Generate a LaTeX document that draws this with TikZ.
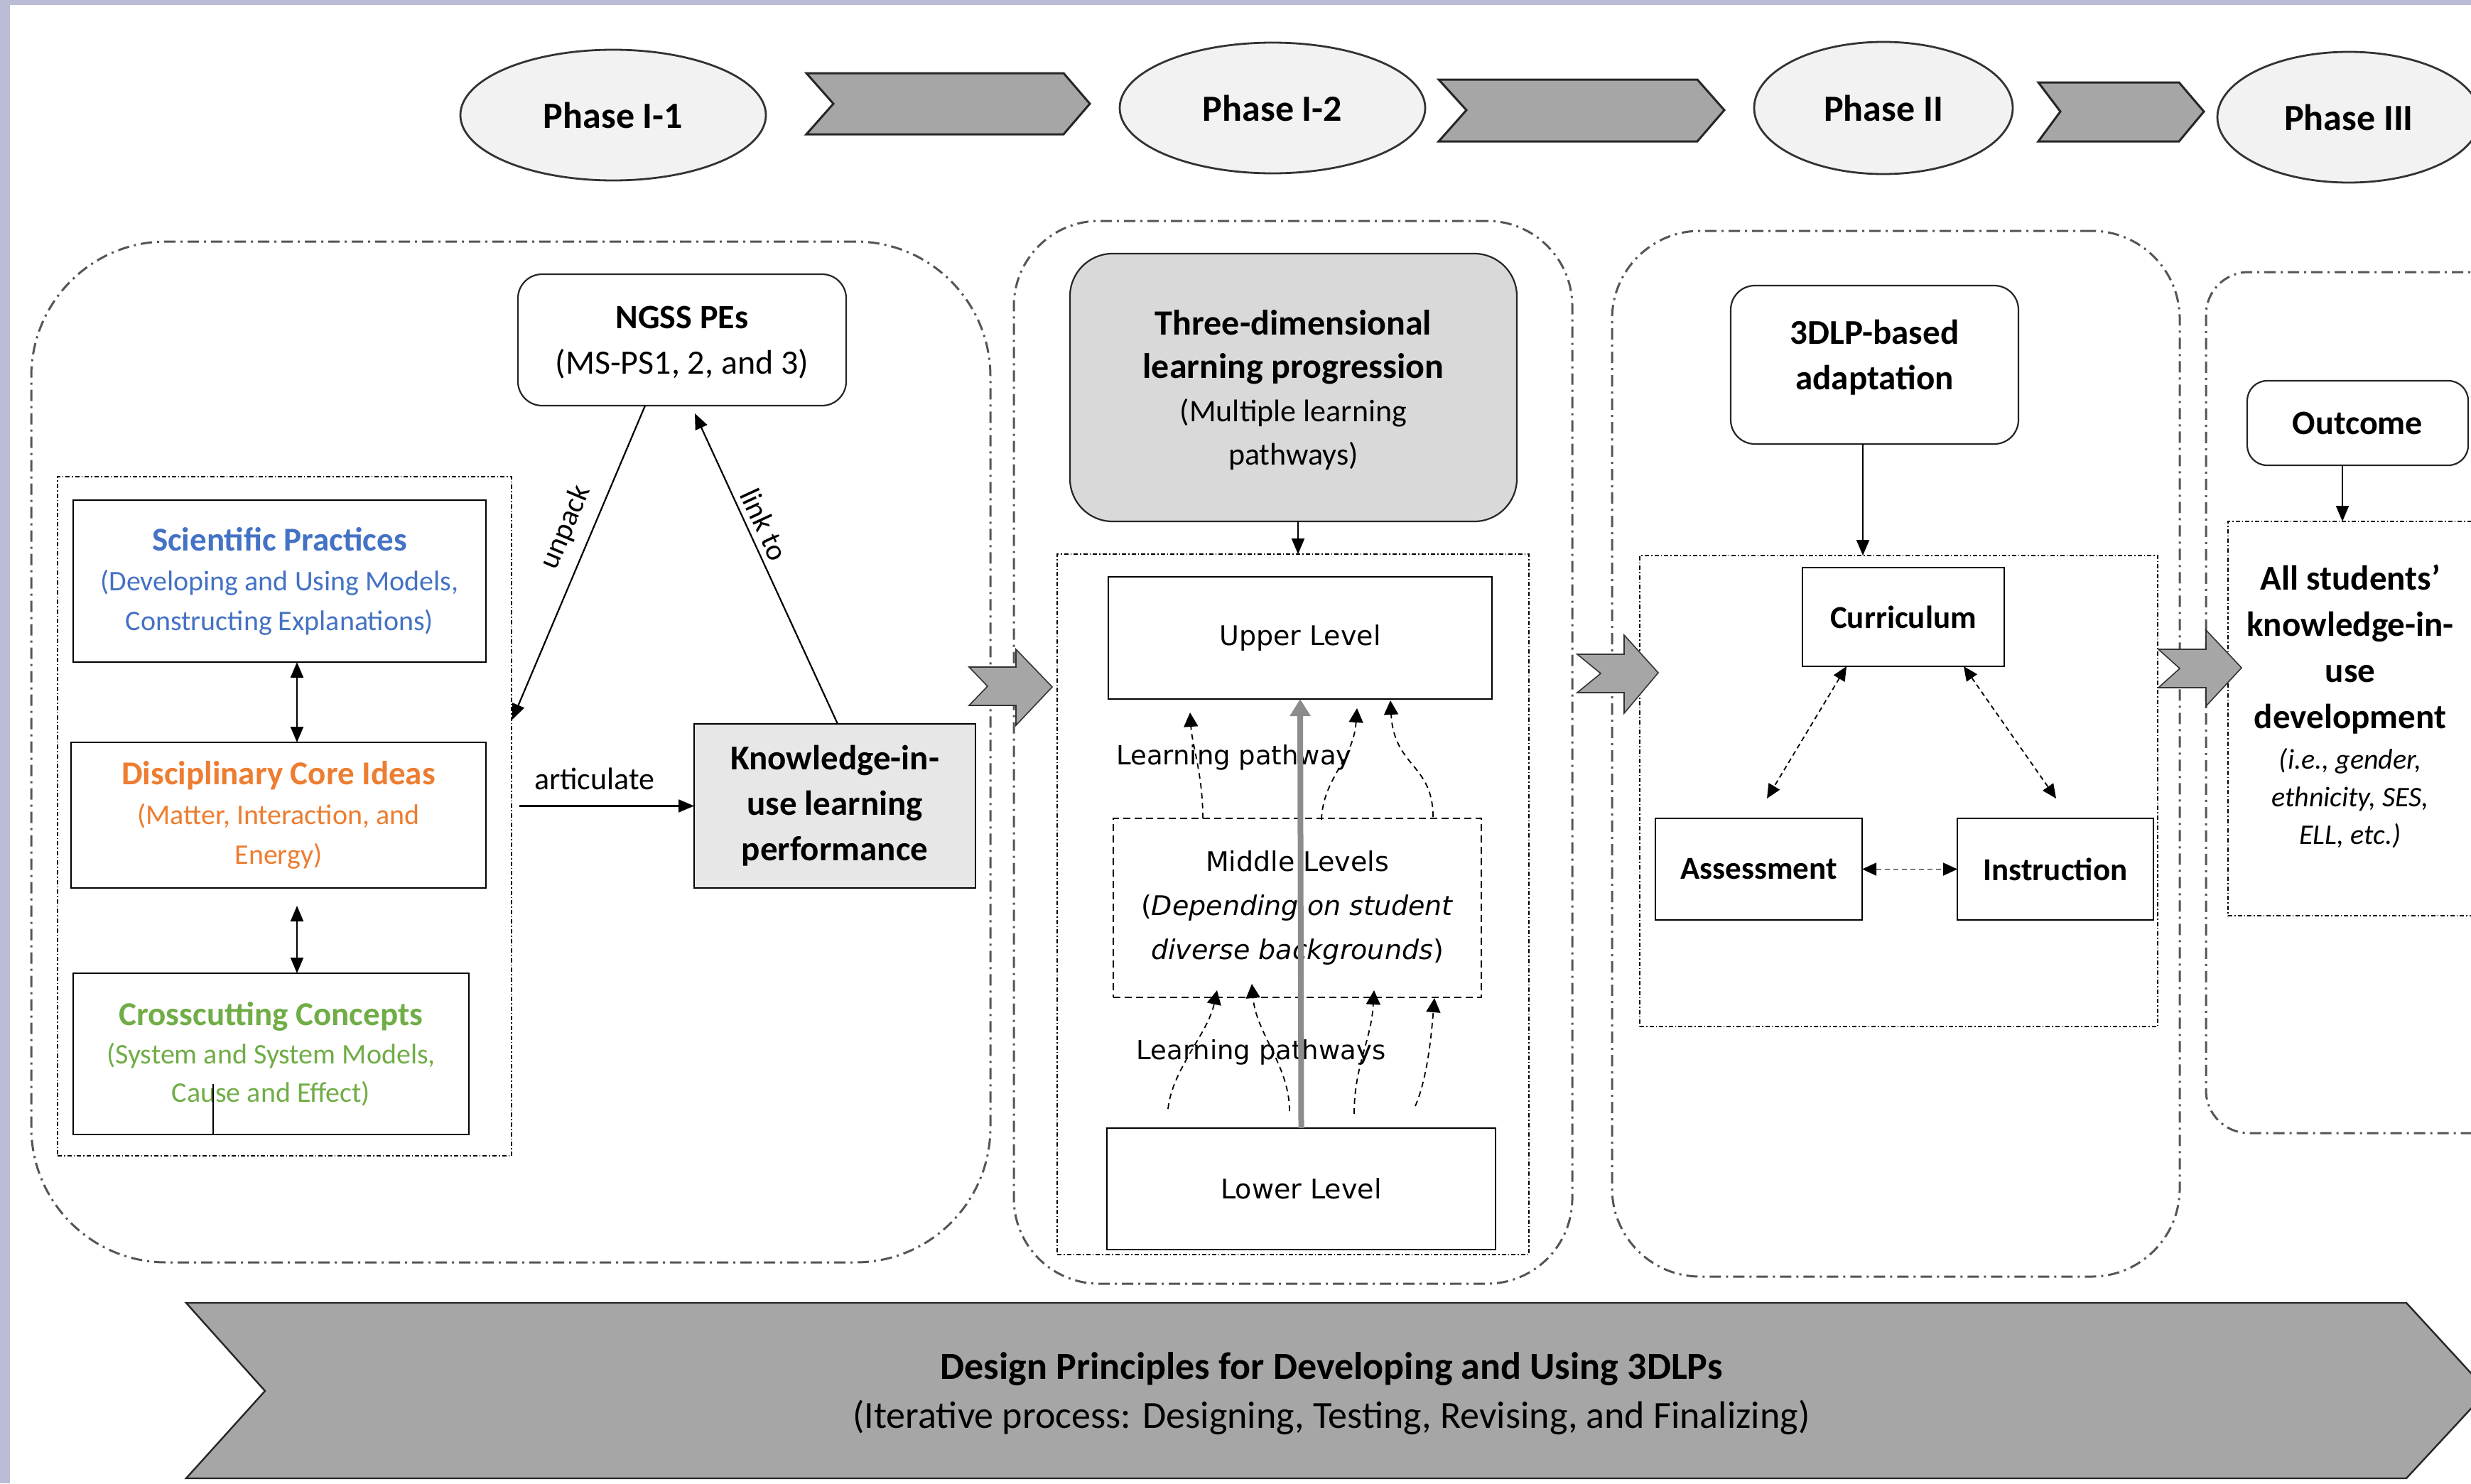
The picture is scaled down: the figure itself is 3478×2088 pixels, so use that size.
\documentclass[tikz,border=0pt]{standalone}
\usepackage{fontspec}
\setmainfont{Carlito}
\newfontfamily\vfont{DejaVu Sans}
\usetikzlibrary{arrows.meta,shapes.geometric,calc}
\definecolor{lav}{HTML}{BBBDD6}
\definecolor{ellfill}{HTML}{F2F2F2}
\definecolor{chev}{HTML}{A6A6A6}
\definecolor{panelline}{HTML}{555555}
\definecolor{spblue}{HTML}{4472C4}
\definecolor{dciorange}{HTML}{ED7D31}
\definecolor{ccgreen}{HTML}{70AD47}
\definecolor{kiufill}{HTML}{E7E7E7}
\definecolor{lpfill}{HTML}{D9D9D9}
\definecolor{grayarrow}{HTML}{8C8C8C}
\newcommand{\myfs}[2]{\fontsize{#1}{#2}\selectfont}
\tikzset{
  phase/.style={ellipse, draw=black!80, line width=1.4pt, fill=ellfill, inner sep=0pt, font=\bfseries\myfs{26}{31}},
  panel/.style={rectangle, draw=panelline, line width=1.5pt, dash pattern=on 8pt off 3.5pt on 1.5pt off 3.5pt, inner sep=0pt, outer sep=0pt},
  innerbox/.style={rectangle, draw=black, line width=0.7pt, dash pattern=on 3pt off 1.5pt on 0.8pt off 1.5pt, inner sep=0pt, outer sep=0pt},
  box/.style={rectangle, draw=black, line width=1.1pt, fill=white, align=center, inner sep=0pt, outer sep=0pt},
  rbox/.style={box, draw=black!85, rounded corners=17pt},
  arr/.style={-{Triangle[length=11pt,width=9pt]}, line width=1.1pt},
  darr/.style={{Triangle[length=11pt,width=9pt]}-{Triangle[length=11pt,width=9pt]}, line width=1.1pt},
  dpath/.style={-{Triangle[length=10pt,width=10pt]}, line width=0.9pt, dash pattern=on 4pt off 3pt},
  ddarr/.style={{Triangle[length=10pt,width=9pt]}-{Triangle[length=10pt,width=9pt]}, line width=0.9pt, dash pattern=on 3.5pt off 2.5pt},
  grayarr/.style={-{Triangle[length=12pt,width=14pt]}, draw=grayarrow, line width=4pt},
  blk/.style={fill=chev, draw=black!80, line width=0.8pt, line join=miter},
  chv/.style={fill=chev, draw=black!85, line width=1.5pt, line join=miter},
}
\begin{document}
\begin{tikzpicture}[x=0.5pt,y=-0.5pt]
\useasboundingbox (0,0) rectangle (3478,2088);
\clip (0,0) rectangle (3478,2088);
\fill[lav] (0,0) rectangle (3478,2088);
\fill[white] (14,7) rectangle (3478,2088);

% phases
\node[phase, minimum width=215pt, minimum height=92pt] (ph11) at (863,162) {Phase I-1};
\node[phase, minimum width=215pt, minimum height=92pt] (ph12) at (1791,152) {Phase I-2};
\node[phase, minimum width=182pt, minimum height=93pt] (ph2) at (2651,152) {Phase II};
\node[phase, minimum width=185pt, minimum height=92pt] (ph3) at (3306,165) {Phase III};
\draw[chv] (1135,103) -- (1497,103) -- (1534,146) -- (1497,189) -- (1135,189) -- (1173,146) -- cycle;
\draw[chv] (2025,112) -- (2389,112) -- (2427,155) -- (2389,199) -- (2025,199) -- (2064,155) -- cycle;
\draw[chv] (2869,116) -- (3067,116) -- (3102,157) -- (3067,199) -- (2869,199) -- (2900,157) -- cycle;

% panels
\node[panel, rounded corners=95pt, minimum width=675pt, minimum height=718.5pt] (pan1) at (719,1058.5) {};
\node[panel, rounded corners=60pt, minimum width=393pt, minimum height=748pt] (pan2) at (1820,1059) {};
\node[panel, rounded corners=62pt, minimum width=399.5pt, minimum height=736pt] (pan3) at (2668.5,1061) {};
\node[panel, rounded corners=30pt, minimum width=227.5pt, minimum height=606pt] (pan4) at (3332.5,989) {};

% inner boxes
\node[innerbox, minimum width=319.5pt, minimum height=478pt] (lib) at (400.5,1149) {};
\node[innerbox, minimum width=332pt, minimum height=493pt] (mib) at (1820,1273) {};
\node[innerbox, minimum width=364.5pt, minimum height=331.5pt] (rib) at (2672.5,1113.5) {};
\node[innerbox, minimum width=202pt, minimum height=277.5pt] (p3b) at (3338,1011.5) {};

% block arrows between panels
\draw[blk] (1364,939) -- (1430,939) -- (1430,914) -- (1481,967) -- (1430,1021) -- (1430,993) -- (1364,993) -- (1390,966) -- cycle;
\draw[blk] (2220,921) -- (2286,921) -- (2286,894) -- (2334,947) -- (2286,1004) -- (2286,975) -- (2220,975) -- (2253,948) -- cycle;
\draw[blk] (3038,914) -- (3105,914) -- (3105,887) -- (3155,940) -- (3105,994) -- (3105,968) -- (3038,968) -- (3068,941) -- cycle;

% Phase I-1 content
\node[rbox, minimum width=231pt, minimum height=92.5pt, font=\myfs{24}{32}, text depth=-5pt] (ngss) at (960,478.5) {{\bfseries NGSS PEs}\\(MS-PS1, 2, and 3)};
\node[box, minimum width=290.5pt, minimum height=114pt, text=spblue, font=\myfs{20}{28}] (sp) at (393.5,818) {{\bfseries\myfs{23.5}{28}Scientific Practices}\\(Developing and Using Models,\\Constructing Explanations)};
\node[box, minimum width=292pt, minimum height=102.5pt, text=dciorange, font=\myfs{20}{28}] (dci) at (392,1147.5) {{\bfseries\myfs{23.5}{28}Disciplinary Core Ideas}\\(Matter, Interaction, and\\Energy)};
\node[box, minimum width=278.5pt, minimum height=113.5pt, text=ccgreen, font=\myfs{20}{27}] (cc) at (381.5,1483.5) {{\bfseries\myfs{23.5}{27}Crosscutting Concepts}\\(System and System Models,\\Cause and Effect)};
\node[box, fill=kiufill, minimum width=198pt, minimum height=115.5pt, font=\bfseries\myfs{24.5}{32}] (kiu) at (1175,1134.5) {Knowledge-in-\\use learning\\performance};

\coordinate (ax) at (418,0);
\draw[darr] (sp.south -| ax) -- (dci.north -| ax);
\draw[darr] ($(dci.south -| ax)+(0,25)$) -- (cc.north -| ax);
\coordinate (sx) at (300,1526);
\draw[line width=1.1pt] (sx) -- (cc.south -| sx);

\coordinate (uS) at (908,0);
\coordinate (uE) at (721,1013);
\draw[arr] (ngss.south -| uS) -- node[sloped, above=5pt, pos=0.42, font=\myfs{21}{25}] (lunpack) {unpack} (uE);
\coordinate (lS) at (1179,0);
\coordinate (lE) at (978,582);
\draw[arr] (kiu.north -| lS) -- node[sloped, above=3pt, inner sep=1pt, pos=0.62, font=\myfs{21}{25}] (llink) {link to} (lE);
\coordinate (artS) at (731,1134.5);
\draw[arr] (artS) -- node[above=9pt, pos=0.43, inner sep=2pt, font=\myfs{22}{26}] (lart) {articulate} (kiu.west);

% Phase I-2 content
\node[rbox, fill=lpfill, rounded corners=30pt, minimum width=314.5pt, minimum height=188.5pt, font=\myfs{22}{30.5}, text depth=-2pt] (lp) at (1820.5,545.5) {{\bfseries\myfs{25}{33}Three-dimensional}\\{\bfseries\myfs{25}{33}learning progression}\\(Multiple learning\\pathways)};
\node[box, minimum width=270pt, minimum height=86pt, font=\vfont\myfs{19}{31}] (up) at (1830,898) {Upper Level};
\node[box, fill=none, line width=0.8pt, dash pattern=on 5pt off 3pt, minimum width=259pt, minimum height=126pt, font=\vfont\myfs{19}{31}] (mid) at (1826,1278) {Middle Levels\\(\textit{Depending on student}\\\textit{diverse backgrounds})};
\node[box, minimum width=273.5pt, minimum height=85.5pt, font=\vfont\myfs{19}{31}] (low) at (1831.5,1673.5) {Lower Level};
\node[font=\vfont\myfs{18.5}{22}, anchor=west, inner sep=0pt] (lpa) at (1571,1066) {Learning pathway};
\node[font=\vfont\myfs{18.5}{22}, inner sep=0pt] (lpb) at (1775,1481) {Learning pathways};

\coordinate (lpx) at (1827,0);
\draw[arr] (lp.south -| lpx) -- (mib.north -| lpx);
\draw[grayarr] (low.north) -- (up.south);

\coordinate (a1s) at (1693,1152); \coordinate (a1e) at (1675,1003);
\coordinate (a2s) at (1860,1154); \coordinate (a2e) at (1910,997);
\coordinate (a3s) at (2017,1150); \coordinate (a3e) at (1957,986);
\draw[dpath] (a1s) .. controls (1693,1090) and (1678,1050) .. (a1e);
\draw[dpath] (a2s) .. controls (1862,1095) and (1905,1070) .. (a2e);
\draw[dpath] (a3s) .. controls (2017,1075) and (1962,1080) .. (a3e);
\coordinate (b1s) at (1644,1561); \coordinate (b1e) at (1713,1394);
\coordinate (b2s) at (1815,1564); \coordinate (b2e) at (1762,1385);
\coordinate (b3s) at (1906,1568); \coordinate (b3e) at (1934,1394);
\coordinate (b4s) at (1992,1557); \coordinate (b4e) at (2019,1405);
\draw[dpath] (b1s) .. controls (1650,1505) and (1700,1455) .. (b1e);
\draw[dpath] (b2s) .. controls (1815,1500) and (1768,1455) .. (b2e);
\draw[dpath] (b3s) .. controls (1906,1500) and (1930,1465) .. (b3e);
\draw[dpath] (b4s) .. controls (2008,1520) and (2014,1465) .. (b4e);

% Phase II content
\node[rbox, minimum width=202.5pt, minimum height=111.5pt, font=\bfseries\myfs{24.5}{32}, text depth=14pt] (ad) at (2638.5,513.5) {3DLP-based\\adaptation};
\node[box, minimum width=142pt, minimum height=69.5pt, font=\bfseries\myfs{22.5}{28}] (cur) at (2679,868.5) {Curriculum};
\node[box, minimum width=145.5pt, minimum height=71.5pt, font=\bfseries\myfs{22.5}{28}] (ass) at (2475.5,1223.5) {Assessment};
\node[box, minimum width=138pt, minimum height=71.5pt, font=\bfseries\myfs{22.5}{28}] (ins) at (2893,1223.5) {Instruction};
\coordinate (adx) at (2622,0);
\draw[arr] (ad.south -| adx) -- (rib.north -| adx);
\coordinate (c1) at (2599,0); \coordinate (c2) at (2487,1124);
\coordinate (c3) at (2764,0); \coordinate (c4) at (2894,1124);
\draw[ddarr] (cur.south -| c1) -- (c2);
\draw[ddarr] (cur.south -| c3) -- (c4);
\draw[ddarr] (ass.east) -- (ins.west);

% Phase III content
\node[rbox, rounded corners=14pt, minimum width=155.5pt, minimum height=59.5pt, font=\bfseries\myfs{24}{30}] (out) at (3318.5,595.5) {Outcome};
\coordinate (ox) at (3297,0);
\draw[arr] (out.south -| ox) -- (p3b.north -| ox);
\node[align=center, font=\bfseries\myfs{24.5}{32.5}] (p3t) at (3308,914) {All students’\\knowledge-in-\\use\\development};
\node[align=center, font=\itshape\myfs{20}{26.5}] (p3i) at (3308,1124) {(i.e., gender,\\ethnicity, SES,\\ELL, etc.)};

% bottom chevron
\draw[chv, line width=1.2pt] (262,1834) -- (3387,1834) -- (3501,1958) -- (3387,2081) -- (262,2081) -- (373,1958) -- cycle;
\node[align=center, font=\myfs{27}{34.5}] (dp) at (1874,1962) {{\bfseries Design Principles for Developing and Using 3DLPs}\\(Iterative process: Designing, Testing, Revising, and Finalizing)};
\end{tikzpicture}
\end{document}
